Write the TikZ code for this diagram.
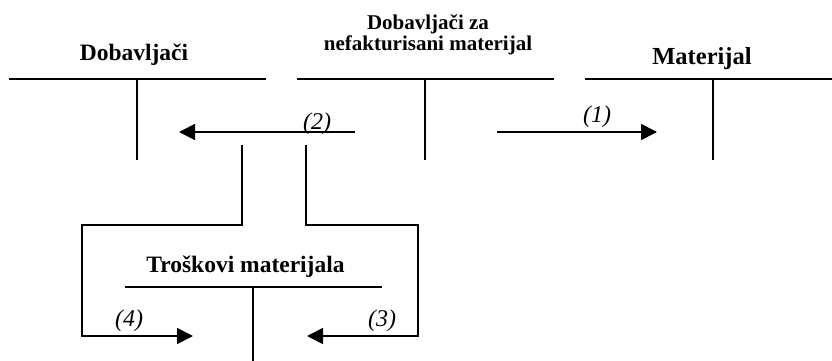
\documentclass[tikz,border=0pt]{standalone}
\usepackage{fontspec}
\setmainfont{Liberation Serif}
\usetikzlibrary{arrows.meta}
\begin{document}
\begin{tikzpicture}[x=1pt,y=-1pt,
  tline/.style={line width=1.4pt},
  flow/.style={line width=1.8pt,-{Triangle[length=16pt,width=16pt]}},
  flowline/.style={line width=1.8pt},
  title/.style={inner sep=0pt,font=\fontsize{23.5}{28}\selectfont\bfseries},
  lbl/.style={inner sep=0pt,font=\fontsize{24}{28}\selectfont\itshape}]
\useasboundingbox (0,0) rectangle (832,361);
% T-account Dobavljaci
\node[title,anchor=base] (t1) at (134,60) {Dobavljači};
\draw[tline] (9,79) -- (266,79);
\draw[tline] (137,79) -- (137,160);
% T-account Dobavljaci za nefakturisani materijal
\node[inner sep=0pt,anchor=north,align=center,font=\fontsize{21}{21}\selectfont\bfseries] (t2) at (428,14.5) {Dobavljači za\\nefakturisani materijal};
\draw[tline] (297,79) -- (554,79);
\draw[tline] (425,79) -- (425,160);
% T-account Materijal
\node[title,anchor=base,font=\fontsize{24.5}{28}\selectfont\bfseries] (t3) at (702,65) {Materijal};
\draw[tline] (585,79) -- (832,79);
\draw[tline] (713,79) -- (713,160);
% T-account Troskovi materijala
\node[title,anchor=base] (t4) at (245.5,272) {Troškovi materijala};
\draw[tline] (125,287) -- (382,287);
\draw[tline] (253,287) -- (253,361);
% flow coordinates
\coordinate (a1s) at (497,132);
\coordinate (a1e) at (657,132);
\coordinate (a2s) at (355,132);
\coordinate (a2e) at (179,132);
\coordinate (l4a) at (242,145);
\coordinate (l4b) at (242,225);
\coordinate (l4c) at (82,225);
\coordinate (l4d) at (82,336);
\coordinate (a4e) at (193,336);
\coordinate (l3a) at (306,145);
\coordinate (l3b) at (306,225);
\coordinate (l3c) at (418,225);
\coordinate (l3d) at (418,336);
\coordinate (a3e) at (307,336);
% arrows
\draw[flow] (a1s) -- (a1e);
\draw[flow] (a2s) -- (a2e);
\draw[flow] (l4a) -- (l4b) -- (l4c) -- (l4d) -- (a4e);
\draw[flow] (l3a) -- (l3b) -- (l3c) -- (l3d) -- (a3e);
% labels
\node[lbl,anchor=base] (n1) at (597,122) {(1)};
\node[lbl,anchor=base] (n2) at (317,129) {(2)};
\node[lbl,anchor=base] (n3) at (382,326) {(3)};
\node[lbl,anchor=base] (n4) at (129,326) {(4)};
\end{tikzpicture}
\end{document}
